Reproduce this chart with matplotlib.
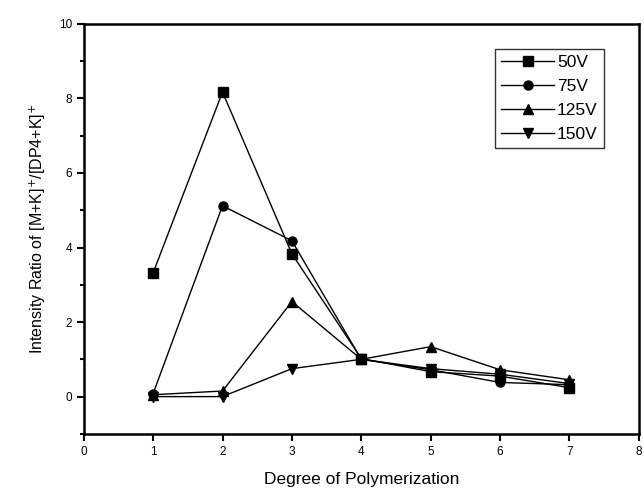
import matplotlib
matplotlib.use("Agg")
import matplotlib.pyplot as plt
from matplotlib.ticker import MultipleLocator

plt.rcParams['font.family'] = ['Liberation Sans', 'DejaVu Sans']

dp = [1, 2, 3, 4, 5, 6, 7]
v50 = [3.32, 8.17, 3.83, 1.02, 0.67, 0.55, 0.24]
v75 = [0.08, 5.12, 4.18, 1.0, 0.72, 0.38, 0.32]
v125 = [0.05, 0.15, 2.55, 1.0, 1.34, 0.72, 0.45]
v150 = [0.0, 0.0, 0.75, 1.0, 0.75, 0.6, 0.35]

labels = ['50V', '75V', '125V', '150V']
markers = ['s', 'o', '^', 'v']

fig = plt.figure(figsize=(6.44, 4.97), dpi=100)
ax = fig.add_axes([0.130, 0.127, 0.862, 0.825])

for vals, lab, m in zip([v50, v75, v125, v150], labels, markers):
    ax.plot(dp, vals, color='black', linewidth=1.0, marker=m, markersize=6.5, label=lab)

ax.set_xlim(0, 8)
ax.set_ylim(-1, 10)
ax.xaxis.set_major_locator(MultipleLocator(1))
ax.set_yticks([0, 2, 4, 6, 8, 10])
ax.yaxis.set_minor_locator(MultipleLocator(1))
ax.tick_params(axis='both', which='major', direction='out', length=5, width=1.5, labelsize=8.5)
ax.tick_params(axis='y', which='minor', direction='out', length=3, width=1.5)
for s in ax.spines.values():
    s.set_linewidth(1.8)

ax.set_xlabel('Degree of Polymerization', fontsize=12.5, labelpad=10)
ax.set_ylabel('Intensity Ratio of [M+K]$^{+}$/[DP4+K]$^{+}$', fontsize=11.5, labelpad=8)

leg = ax.legend(loc='upper right', bbox_to_anchor=(0.937, 0.939), fontsize=12.5, frameon=True,
                fancybox=False, edgecolor='black', handlelength=3.0, handletextpad=0.2,
                borderpad=0.35, labelspacing=0.5, borderaxespad=0.0)
leg.get_frame().set_linewidth(1.0)

fig.savefig('out.png', dpi=100)
